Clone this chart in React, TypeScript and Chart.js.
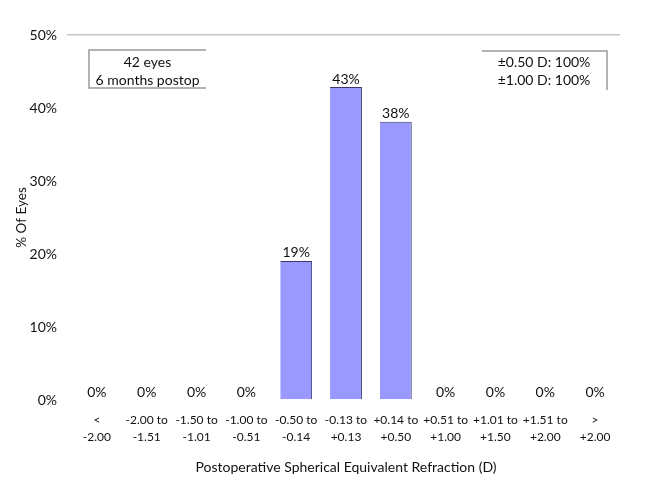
import React, { useEffect, useRef } from "react";
import { Chart, registerables } from "chart.js";

Chart.register(...registerables);

const categories: string[][] = [
  ["<", "-2.00"],
  ["-2.00 to", "-1.51"],
  ["-1.50 to", "-1.01"],
  ["-1.00 to", "-0.51"],
  ["-0.50 to", "-0.14"],
  ["-0.13 to", "+0.13"],
  ["+0.14 to", "+0.50"],
  ["+0.51 to", "+1.00"],
  ["+1.01 to", "+1.50"],
  ["+1.51 to", "+2.00"],
  [">", "+2.00"],
];
const percentEyes: number[] = [0, 0, 0, 0, 19.05, 42.86, 38.1, 0, 0, 0, 0];
const yTicks: number[] = [0, 10, 20, 30, 40, 50];
const leftNote: string[] = ["42 eyes", "6 months postop"];
const rightNote: string[] = ["±0.50 D: 100%", "±1.00 D: 100%"];

const FONT = "Lato, 'Open Sans', sans-serif";

const labelsPlugin = {
  id: "barLabels",
  afterDatasetsDraw(chart: any) {
    const ctx = chart.ctx;
    const meta = chart.getDatasetMeta(0);
    ctx.save();
    ctx.font = `14px ${FONT}`;
    ctx.fillStyle = "#111";
    ctx.textAlign = "center";
    ctx.textBaseline = "bottom";
    meta.data.forEach((bar: any, i: number) => {
      const v = percentEyes[i];
      ctx.fillText(`${Math.round(v)}%`, bar.x, bar.y - 1);
    });
    ctx.restore();
  },
};

const notesPlugin = {
  id: "notes",
  afterDraw(chart: any) {
    const ctx = chart.ctx;
    const a = chart.chartArea;
    ctx.save();
    ctx.strokeStyle = "#9a9a9a";
    ctx.lineWidth = 1.5;
    const lx1 = a.left + 17, lx2 = a.left + 134, ly1 = a.top + 15, ly2 = a.top + 53;
    ctx.beginPath();
    ctx.moveTo(lx2, ly1);
    ctx.lineTo(lx1, ly1);
    ctx.lineTo(lx1, ly2);
    ctx.lineTo(lx2, ly2);
    ctx.stroke();
    const rx1 = a.right - 138, rx2 = a.right - 13, ry1 = a.top + 16, ry2 = a.top + 55;
    ctx.beginPath();
    ctx.moveTo(rx1, ry1);
    ctx.lineTo(rx2, ry1);
    ctx.lineTo(rx2, ry2);
    ctx.stroke();
    ctx.font = `14px ${FONT}`;
    ctx.fillStyle = "#111";
    ctx.textAlign = "center";
    ctx.textBaseline = "middle";
    ctx.fillText(leftNote[0], (lx1 + lx2) / 2, ly1 + 12);
    ctx.fillText(leftNote[1], (lx1 + lx2) / 2, ly1 + 30);
    ctx.fillText(rightNote[0], rx1 + 62, ry1 + 11);
    ctx.fillText(rightNote[1], rx1 + 62, ry1 + 29);
    ctx.restore();
  },
};

export default function App() {
  const ref = useRef<HTMLCanvasElement>(null);
  useEffect(() => {
    document.body.style.margin = "0";
    const chart = new Chart(ref.current!, {
      type: "bar",
      data: {
        labels: categories,
        datasets: [
          {
            data: percentEyes,
            backgroundColor: "#9999ff",
            borderColor: "#3a3a6a",
            borderWidth: percentEyes.map((v) => (v > 0 ? { top: 1, right: 1, left: 0, bottom: 0 } : 0)) as any,
            borderSkipped: false,
            barPercentage: 0.64,
            categoryPercentage: 1,
          },
        ],
      },
      options: {
        animation: false,
        responsive: false,
        maintainAspectRatio: false,
        layout: { padding: { left: 0, right: 37, top: 35, bottom: 24 } },
        plugins: { legend: { display: false }, tooltip: { enabled: false } },
        scales: {
          x: {
            grid: { display: false },
            border: { display: false },
            ticks: {
              color: "#111",
              font: { family: FONT, size: 12, lineHeight: 1.4 },
              maxRotation: 0,
              autoSkip: false,
              padding: 4,
            },
            title: {
              display: true,
              text: "Postoperative Spherical Equivalent Refraction (D)",
              color: "#111",
              font: { family: FONT, size: 14 },
              padding: { top: 14, bottom: 0 },
            },
            afterFit: (s: any) => {
              s.height = 76;
            },
          },
          y: {
            min: 0,
            max: 50,
            afterBuildTicks: (s: any) => {
              s.ticks = yTicks.map((v) => ({ value: v }));
            },
            border: { display: false },
            grid: {
              color: (c: any) => (c.tick && c.tick.value === 50 ? "#c8c8c8" : "rgba(0,0,0,0)"),
              lineWidth: 1.5,
              tickLength: 5,
            },
            ticks: {
              color: "#111",
              font: { family: FONT, size: 14 },
              padding: 10,
              callback: (v: any) => `${v}%`,
            },
            title: {
              display: true,
              text: "% Of Eyes",
              color: "#111",
              font: { family: FONT, size: 13.5 },
              padding: { top: 14, bottom: 0 },
            },
            afterFit: (s: any) => {
              s.width = 72;
            },
          },
        },
      },
      plugins: [labelsPlugin, notesPlugin],
    });
    return () => chart.destroy();
  }, []);
  return <canvas ref={ref} width={657} height={500} style={{ display: "block" }} />;
}
